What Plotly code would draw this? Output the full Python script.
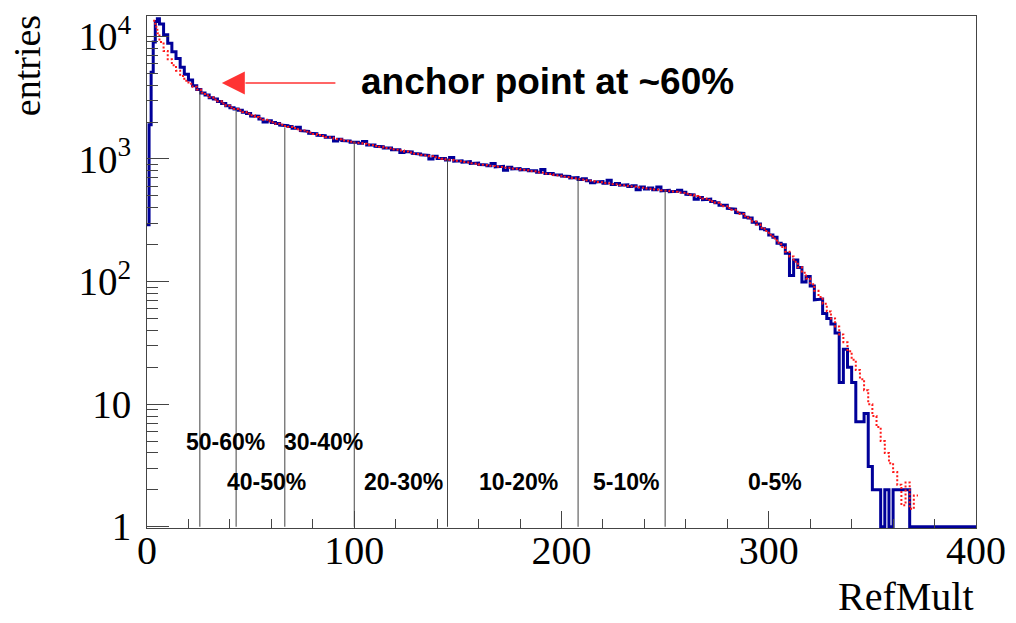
import plotly.graph_objects as go

# ---------------- data ----------------
# lower bin edges (width 1 for the first bins, width 2 afterwards), last edge = 400
bin_lows = [0, 1, 2, 3, 4, 5] + list(range(6, 373, 2))
bin_last_edge = 400

blue_counts = [
    290, 1900, 5100, 9000, 13200, 13900, 12600, 10300, 8800, 7500,
    6600, 5600, 4900, 4400, 3950, 3680, 3450, 3330, 3150, 3090,
    2940, 2830, 2720, 2620, 2560, 2500, 2400, 2350, 2240, 2230,
    2120, 2000, 2050, 1980, 1950, 1890, 1870, 1840, 1780, 1810,
    1700, 1680, 1620, 1610, 1560, 1550, 1500, 1500, 1400, 1450,
    1410, 1400, 1370, 1370, 1340, 1390, 1300, 1300, 1270, 1260,
    1230, 1230, 1190, 1190, 1130, 1150, 1140, 1110, 1100, 1080,
    1070, 1000, 1050, 1010, 1010, 980, 1030, 960, 965, 940,
    950, 920, 925, 900, 895, 880, 920, 860, 870, 810,
    855, 830, 835, 815, 820, 800, 800, 780, 820, 760,
    760, 745, 740, 725, 720, 700, 705, 680, 690, 665,
    640, 650, 655, 635, 670, 620, 630, 610, 615, 595,
    605, 560, 590, 570, 580, 560, 590, 550, 555, 540,
    545, 555, 535, 515, 510, 470, 485, 465, 470, 450,
    440, 420, 420, 395, 390, 365, 360, 335, 330, 305,
    295, 270, 265, 240, 230, 205, 200, 170, 112, 150,
    130, 99, 110, 92, 71, 72, 55, 50, 45, 38,
    15, 28, 20, 15, 7.2, 7.2, 8.4, 3.1, 2, 2,
    1, 2, 1, 2, 2, 2, 2, 1, 1, 1,
]

red_counts = [
    None, None, None, 13400, 12000, 10600, 9000, 7600, 6500, 5800,
    5250, 4750, 4350, 4100, 3880, 3680, 3470, 3310, 3180, 3060,
    2950, 2830, 2720, 2630, 2550, 2480, 2410, 2340, 2270, 2200,
    2140, 2090, 2030, 1990, 1940, 1900, 1860, 1830, 1790, 1750,
    1710, 1670, 1640, 1600, 1570, 1540, 1510, 1490, 1460, 1440,
    1420, 1400, 1380, 1360, 1345, 1330, 1310, 1295, 1275, 1255,
    1235, 1220, 1200, 1185, 1170, 1150, 1130, 1110, 1095, 1080,
    1065, 1050, 1035, 1020, 1005, 990, 980, 970, 958, 948,
    936, 925, 912, 900, 892, 884, 875, 868, 860, 852,
    845, 836, 828, 820, 810, 800, 790, 780, 770, 760,
    750, 740, 730, 720, 710, 700, 692, 684, 676, 668,
    660, 652, 645, 638, 631, 624, 618, 612, 606, 600,
    594, 588, 582, 576, 570, 565, 560, 555, 550, 545,
    540, 535, 528, 520, 510, 498, 487, 475, 463, 451,
    439, 426, 412, 398, 385, 371, 356, 341, 325, 309,
    292, 275, 258, 241, 224, 207, 191, 175, 160, 145,
    131, 118, 106, 95, 84, 75, 66, 57, 50, 43,
    37, 32, 27, 23, 19, 16, 13, 10, 8, 6.5,
    5, 4, 3.3, 2.8, 2.2, 1.5, 2.3, 1.4, 1.8, None,
]

cut_values = [25.5, 43, 66.5, 100, 145, 208, 250]
cut_tops = [3600, 2570, 1810, 1400, 995, 690, 555]
cut_labels = ["50-60%", "40-50%", "30-40%", "20-30%", "10-20%", "5-10%", "0-5%"]

y_tick_vals = [1, 10, 100, 1000, 10000]
y_tick_text = ["1", "10", "10<sup>2</sup>", "10<sup>3</sup>", "10<sup>4</sup>"]
y_minor_vals = [m * 10 ** d for d in range(4) for m in range(2, 10)]

assert len(blue_counts) == len(bin_lows), len(blue_counts)
assert len(red_counts) == len(bin_lows), len(red_counts)

# label placement (x in data units, y in log10 units)
label_pos = [(37.9, 0.692), (57.6, 0.362), (85.2, 0.692), (123.7, 0.362),
             (179.4, 0.362), (231.1, 0.362), (303.1, 0.362)]


def steps(lows, last, vals):
    xs, ys = [], []
    highs = lows[1:] + [last]
    for lo, hi, v in zip(lows, highs, vals):
        xs += [lo, hi]
        ys += [v, v]
    return xs, ys


bx, by = steps(bin_lows, bin_last_edge, blue_counts)
rx, ry = steps(bin_lows, bin_last_edge, red_counts)

fig = go.Figure()
fig.add_trace(go.Scatter(x=bx, y=by, mode="lines",
                         line=dict(color="#000099", width=3),
                         showlegend=False, hoverinfo="skip"))
fig.add_trace(go.Scatter(x=rx, y=ry, mode="lines",
                         line=dict(color="#ff1a1a", width=2, dash="2px,2px"),
                         showlegend=False, hoverinfo="skip"))

shapes = []
for cx, top in zip(cut_values, cut_tops):
    shapes.append(dict(type="line", xref="x", yref="y", x0=cx, x1=cx, y0=1, y1=top,
                       line=dict(color="#444444", width=1)))

arrow_y = 10 ** 3.62
shapes.append(dict(type="line", xref="x", yref="y", x0=47.5, x1=90.9, y0=arrow_y, y1=arrow_y,
                   line=dict(color="#ff3333", width=1.5)))
shapes.append(dict(type="path", xref="x", yref="y", xsizemode="pixel", ysizemode="pixel",
                   xanchor=36.1, yanchor=arrow_y, path="M0,0 L23,11.5 L23,-11.5 Z",
                   fillcolor="#ff3333", line=dict(width=0)))

annotations = []
for txt, (lx, ly) in zip(cut_labels, label_pos):
    annotations.append(dict(x=lx, y=ly, xref="x", yref="y", text=txt, showarrow=False,
                            xanchor="center", yanchor="middle",
                            font=dict(family="Liberation Sans", size=23, color="black",
                                      weight="bold")))
annotations.append(dict(x=102.5, y=3.628, xref="x", yref="y", text="anchor point at ~60%",
                        showarrow=False, xanchor="left", yanchor="middle",
                        font=dict(family="Liberation Sans", size=37, color="black",
                                  weight="bold")))
annotations.append(dict(x=-0.1439, y=1.006, xref="paper", yref="paper", text="entries",
                        showarrow=False, xanchor="center", yanchor="top", textangle=-90,
                        font=dict(family="Liberation Serif", size=38, color="black")))
annotations.append(dict(x=1.0, y=-0.1824, xref="paper", yref="paper", text="RefMult",
                        showarrow=False, xanchor="right", yanchor="bottom",
                        font=dict(family="Liberation Serif", size=40, color="black")))

fig.update_layout(
    width=1016, height=623,
    margin=dict(l=147, r=35, t=10, b=95),
    paper_bgcolor="white", plot_bgcolor="white",
    shapes=shapes, annotations=annotations,
    xaxis=dict(range=[0, 400], tickmode="linear", tick0=0, dtick=100,
               ticks="inside", ticklen=17, tickcolor="#444444", tickwidth=1,
               minor=dict(tick0=0, dtick=20, ticks="inside", ticklen=9,
                          tickcolor="#444444", tickwidth=1),
               showline=True, linecolor="#444444", linewidth=1, mirror=True,
               showgrid=False, zeroline=False, ticklabelstandoff=-13,
               tickfont=dict(family="Liberation Serif", size=40, color="black")),
    yaxis=dict(type="log", range=[-0.01, 4.166], tickmode="array",
               tickvals=y_tick_vals, ticktext=y_tick_text,
               ticks="inside", ticklen=22, tickcolor="#444444", tickwidth=1,
               minor=dict(tickmode="array", tickvals=y_minor_vals, ticks="inside",
                          ticklen=11, tickcolor="#444444", tickwidth=1),
               showline=True, linecolor="#444444", linewidth=1, mirror=True,
               showgrid=False, zeroline=False, ticklabelstandoff=7,
               tickfont=dict(family="Liberation Serif", size=39, color="black")),
)

fig.write_html("out.html", config={"displayModeBar": False},
               post_script="document.body.style.margin='0';")
